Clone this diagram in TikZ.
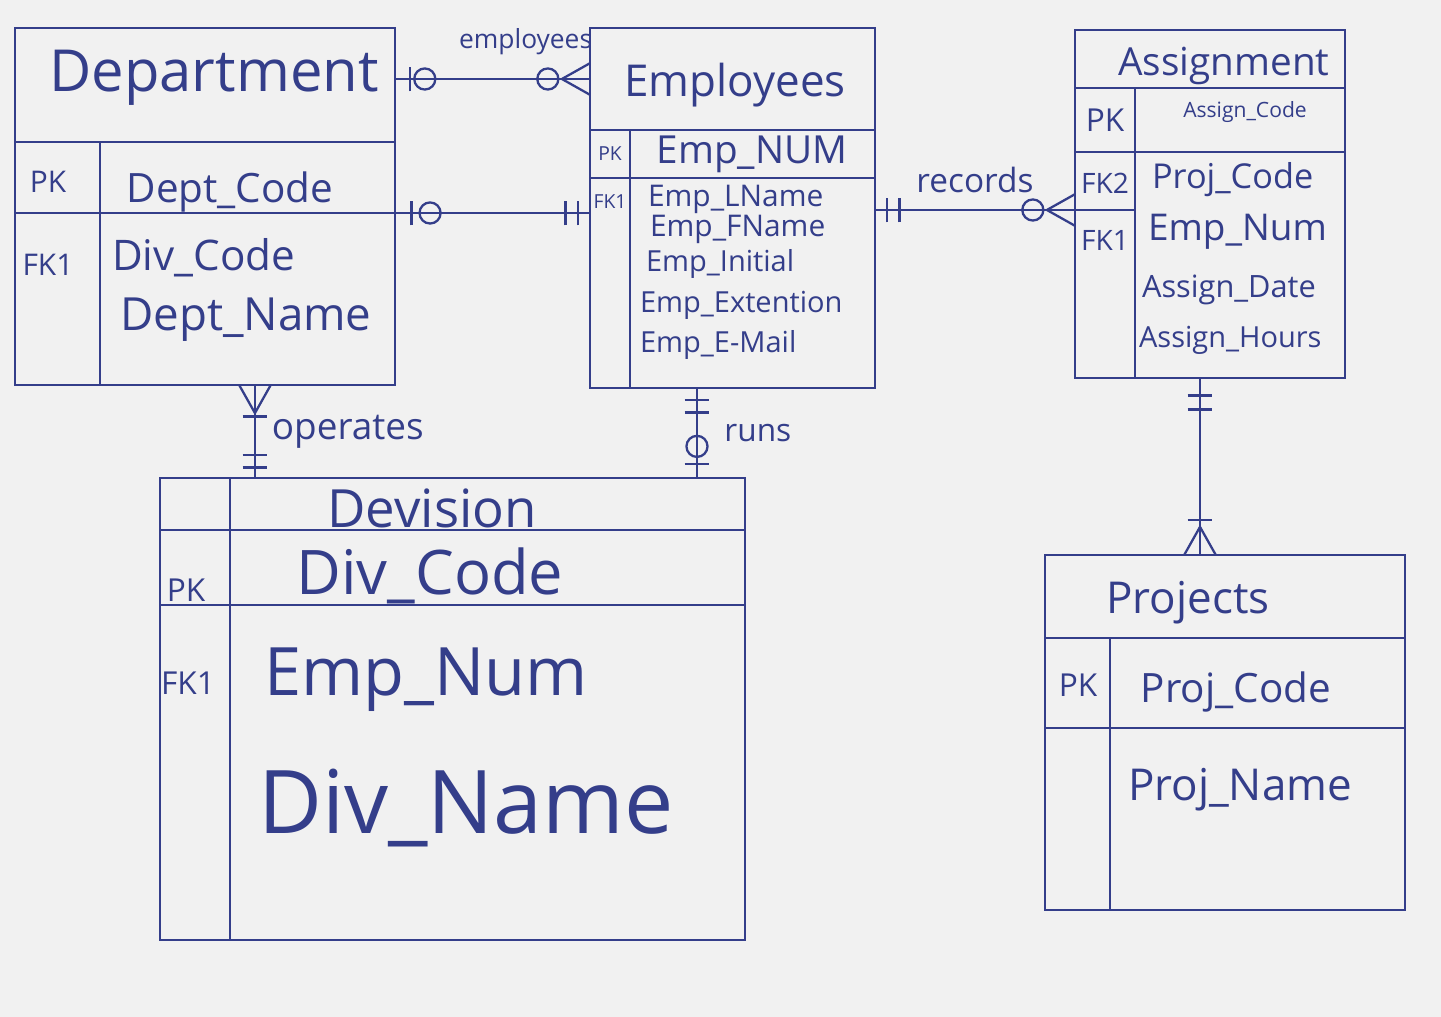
\documentclass[tikz,border=0pt]{standalone}
\usepackage{fontspec}
\setmainfont{Open Sans}
\usetikzlibrary{positioning,decorations.markings}
\definecolor{ink}{RGB}{52,62,138}
\definecolor{paper}{RGB}{241,241,241}
\newcommand{\inkfont}[1]{\fontsize{#1}{#1}\selectfont}
\begin{document}
\begin{tikzpicture}[
    x=0.02cm, y=-0.02cm,
    cell/.style={draw=ink, line width=1.4pt, inner sep=0pt, outer sep=0pt, anchor=north west},
    txt/.style={text=ink, inner sep=1pt},
    link/.style={draw=ink, line width=1.3pt},
    mk/.style={draw=ink, line width=1.3pt},
    barmark/.style={postaction={decorate, decoration={markings, mark=at position #1 with {\draw[mk] (0,-7pt) -- (0,7pt);}}}},
    ringmark/.style={postaction={decorate, decoration={markings, mark=at position #1 with {\draw[mk] (0,0) circle (6pt);}}}},
    footend/.style={postaction={decorate, decoration={markings, mark=at position 1 with {\draw[mk] (-16pt,0) -- (0,9pt) (-16pt,0) -- (0,-9pt);}}}},
    footstart/.style={postaction={decorate, decoration={markings, mark=at position 0 with {\draw[mk] (16pt,0) -- (0,9pt) (16pt,0) -- (0,-9pt);}}}}
]
    % paper
    \fill[paper] (0,0) rectangle (1441,1017);

    % Department
    \node[cell, minimum width=7.6cm, minimum height=2.28cm] (depttitle) at (15,28) {};
    \node[cell, minimum width=1.7cm, minimum height=1.42cm] (deptpkkey) at (15,142) {};
    \node[cell, minimum width=5.9cm, minimum height=1.42cm, right=0pt of deptpkkey] (deptpkattr) {};
    \node[cell, minimum width=1.7cm, minimum height=3.44cm] (deptfkkey) at (15,213) {};
    \node[cell, minimum width=5.9cm, minimum height=3.44cm, right=0pt of deptfkkey] (deptfkattr) {};
    \node[txt, font=\inkfont{33pt}] (tdept) at (214,78) {Department};
    \node[txt, font=\inkfont{17pt}] (tdeptpk) at (48,182) {PK};
    \node[txt, font=\inkfont{23pt}] (tdeptcode) at (230,192) {Dept\_Code};
    \node[txt, font=\inkfont{17pt}] (tdeptfk) at (48,265) {FK1};
    \node[txt, font=\inkfont{24pt}, anchor=west] (tdeptdiv) at (110,258) {Div\_Code};
    \node[txt, font=\inkfont{26pt}, anchor=west] (tdeptname) at (118,320) {Dept\_Name};

    % Employees
    \node[cell, minimum width=5.7cm, minimum height=2.04cm] (emptitle) at (590,28) {};
    \node[cell, minimum width=0.8cm, minimum height=0.96cm] (emppkkey) at (590,130) {};
    \node[cell, minimum width=4.9cm, minimum height=0.96cm, right=0pt of emppkkey] (emppkattr) {};
    \node[cell, minimum width=0.8cm, minimum height=4.2cm] (empfkkey) at (590,178) {};
    \node[cell, minimum width=4.9cm, minimum height=4.2cm, right=0pt of empfkkey] (empfkattr) {};
    \node[txt, font=\inkfont{25pt}] (temp) at (735,85) {Employees};
    \node[txt, font=\inkfont{11pt}] (temppk) at (610,154) {PK};
    \node[txt, font=\inkfont{22pt}] (tempnum) at (752,154) {Emp\_NUM};
    \node[txt, font=\inkfont{11pt}] (tempfk) at (610,202) {FK1};
    \node[txt, font=\inkfont{17pt}, anchor=west] (templname) at (646,199) {Emp\_LName};
    \node[txt, font=\inkfont{17pt}, anchor=west] (tempfname) at (648,229) {Emp\_FName};
    \node[txt, font=\inkfont{16.5pt}, anchor=west] (tempinit) at (644,264) {Emp\_Initial};
    \node[txt, font=\inkfont{16.5pt}, anchor=west] (tempext) at (638,305) {Emp\_Extention};
    \node[txt, font=\inkfont{16.5pt}, anchor=west] (tempmail) at (638,345) {Emp\_E-Mail};

    % Assignment
    \node[cell, minimum width=5.4cm, minimum height=1.16cm] (asgtitle) at (1075,30) {};
    \node[cell, minimum width=1.2cm, minimum height=1.28cm] (asgpkkey) at (1075,88) {};
    \node[cell, minimum width=4.2cm, minimum height=1.28cm, right=0pt of asgpkkey] (asgpkattr) {};
    \node[cell, minimum width=1.2cm, minimum height=1.16cm] (asgfk2key) at (1075,152) {};
    \node[cell, minimum width=1.2cm, minimum height=3.36cm] (asgrestkey) at (1075,210) {};
    \node[cell, minimum width=4.2cm, minimum height=4.52cm] (asgattr) at (1135,152) {};
    \node[txt, font=\inkfont{22pt}] (tasg) at (1224,66) {Assignment};
    \node[txt, font=\inkfont{18pt}] (tasgpk) at (1105,120) {PK};
    \node[txt, font=\inkfont{12pt}] (tasgcode) at (1245,112) {Assign\_Code};
    \node[txt, font=\inkfont{16pt}] (tasgfk2) at (1105,183) {FK2};
    \node[txt, font=\inkfont{16pt}] (tasgfk1) at (1105,240) {FK1};
    \node[txt, font=\inkfont{19.5pt}, anchor=west] (tasgproj) at (1150,180) {Proj\_Code};
    \node[txt, font=\inkfont{21pt}, anchor=west] (tasgemp) at (1146,232) {Emp\_Num};
    \node[txt, font=\inkfont{17.5pt}, anchor=west] (tasgdate) at (1140,290) {Assign\_Date};
    \node[txt, font=\inkfont{16.5pt}, anchor=west] (tasghours) at (1137,340) {Assign\_Hours};

    % Division
    \node[cell, minimum width=1.4cm, minimum height=1.04cm] (divtitlekey) at (160,478) {};
    \node[cell, minimum width=10.3cm, minimum height=1.04cm, right=0pt of divtitlekey] (divtitle) {};
    \node[cell, minimum width=1.4cm, minimum height=1.5cm] (divpkkey) at (160,530) {};
    \node[cell, minimum width=10.3cm, minimum height=1.5cm, right=0pt of divpkkey] (divpkattr) {};
    \node[cell, minimum width=1.4cm, minimum height=6.7cm] (divrestkey) at (160,605) {};
    \node[cell, minimum width=10.3cm, minimum height=6.7cm, right=0pt of divrestkey] (divrestattr) {};
    \node[txt, font=\inkfont{30pt}] (tdiv) at (432,508) {Devision};
    \node[txt, font=\inkfont{18pt}] (tdivpk) at (186,590) {PK};
    \node[txt, font=\inkfont{35pt}] (tdivcode) at (430,576) {Div\_Code};
    \node[txt, font=\inkfont{18pt}] (tdivfk) at (188,683) {FK1};
    \node[txt, font=\inkfont{38pt}, anchor=west] (tdivemp) at (262,680) {Emp\_Num};
    \node[txt, font=\inkfont{50pt}, anchor=west] (tdivname) at (256,808) {Div\_Name};

    % Projects
    \node[cell, minimum width=7.2cm, minimum height=1.66cm] (projtitle) at (1045,555) {};
    \node[cell, minimum width=1.3cm, minimum height=1.8cm] (projpkkey) at (1045,638) {};
    \node[cell, minimum width=5.9cm, minimum height=1.8cm, right=0pt of projpkkey] (projpkattr) {};
    \node[cell, minimum width=1.3cm, minimum height=3.64cm] (projrestkey) at (1045,728) {};
    \node[cell, minimum width=5.9cm, minimum height=3.64cm, right=0pt of projrestkey] (projrestattr) {};
    \node[txt, font=\inkfont{25pt}] (tproj) at (1188,603) {Projects};
    \node[txt, font=\inkfont{18pt}] (tprojpk) at (1078,685) {PK};
    \node[txt, font=\inkfont{23pt}] (tprojcode) at (1236,692) {Proj\_Code};
    \node[txt, font=\inkfont{25pt}] (tprojname) at (1240,790) {Proj\_Name};

    % Relationships
    \draw[link, barmark=8.5pt, ringmark=17pt, ringmark=-24pt, footend]
        (emptitle.west -| depttitle.east) -- (emptitle.west)
        node[txt, pos=0.67, above=12pt, font=\inkfont{15pt}] (lemployees) {employees};
    \draw[link, barmark=9.5pt, ringmark=20pt, barmark=-14pt, barmark=-7pt]
        (deptpkattr.south east) -- (deptpkattr.south east -| empfkkey.west);
    \draw[link, barmark=7pt, barmark=14pt, ringmark=-24pt, footend]
        (asgfk2key.south west -| empfkattr.east) -- (asgfk2key.south west)
        node[txt, midway, above=8pt, font=\inkfont{19pt}] (lrecords) {records};
    \draw[link, footstart, barmark=18pt, barmark=-13pt, barmark=-6pt]
        ([xshift=3.1cm]deptfkattr.south west) -- ([xshift=3.1cm]deptfkattr.south west |- divtitle.north)
        node[txt, midway, right=8pt, font=\inkfont{21pt}] (loperates) {operates};
    \draw[link, barmark=7pt, barmark=14pt, ringmark=-18pt, barmark=-8pt]
        ([xshift=1.34cm]empfkattr.south west) -- ([xshift=1.34cm]empfkattr.south west |- divtitle.north)
        node[txt, midway, right=14pt, font=\inkfont{18pt}] (lruns) {runs};
    \draw[link, barmark=10pt, barmark=18pt, barmark=-20pt, footend]
        ([xshift=1.3cm]asgattr.south west) -- ([xshift=1.3cm]asgattr.south west |- projtitle.north);
\end{tikzpicture}
\end{document}
